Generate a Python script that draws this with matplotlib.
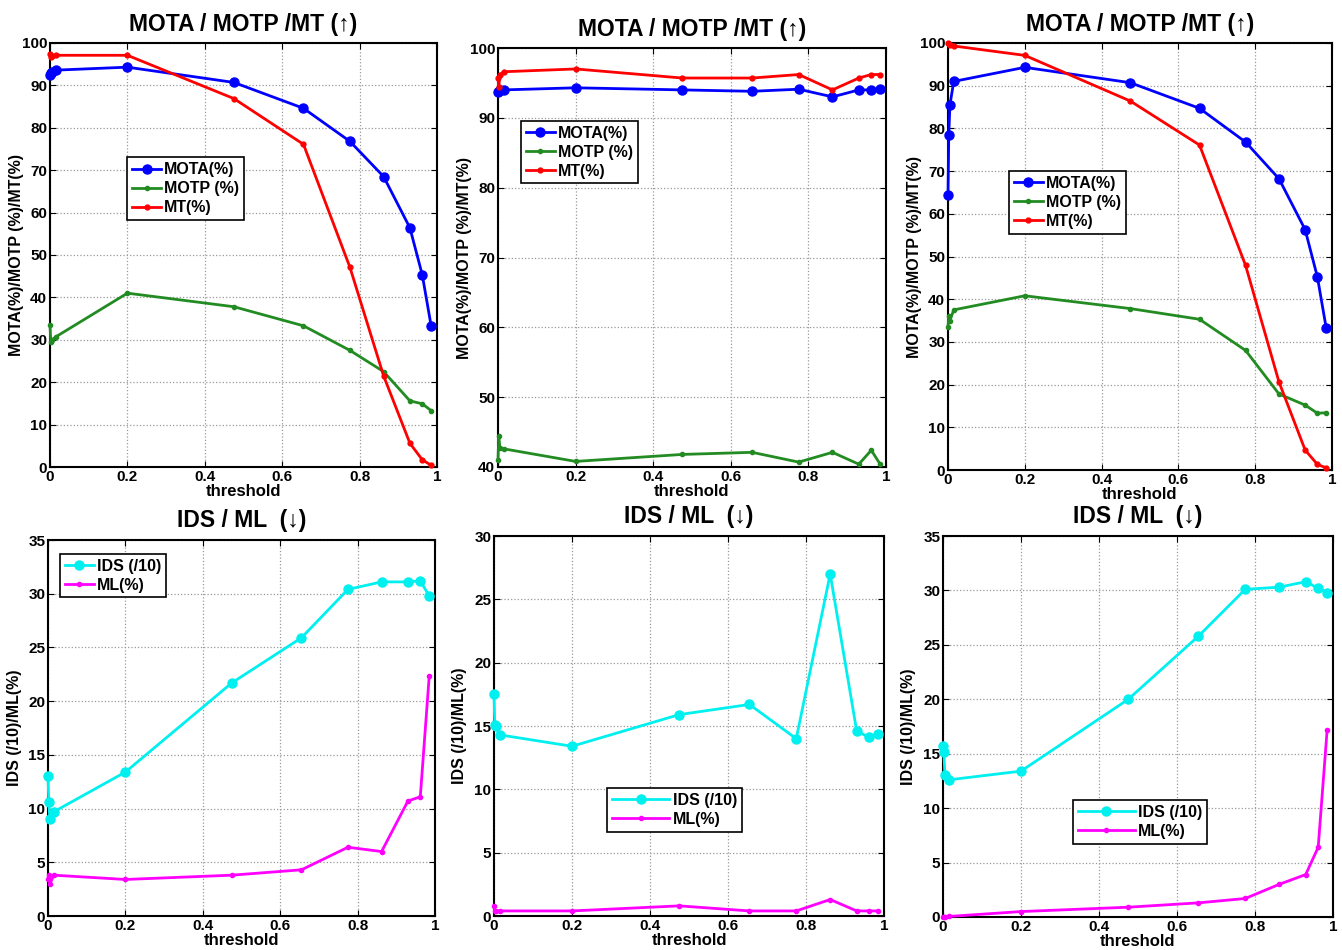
import numpy as np
import matplotlib
matplotlib.use('Agg')
import matplotlib.pyplot as plt
from matplotlib.ticker import FuncFormatter

# thresholds shared by all panels
threshold = [0.0, 0.002, 0.005, 0.015, 0.2, 0.475, 0.655, 0.775, 0.862, 0.93, 0.962, 0.985]

# top row: MOTA / MOTP / MT
mota_1 = [92.5, 93.0, 93.2, 93.6, 94.3, 90.7, 84.6, 76.8, 68.5, 56.4, 45.3, 33.2]
motp_1 = [33.5, 29.5, 30.0, 30.7, 41.0, 37.8, 33.3, 27.5, 22.5, 15.6, 14.9, 13.3]
mt_1 = [97.5, 96.8, 97.0, 97.1, 97.1, 86.9, 76.1, 47.1, 21.5, 5.6, 1.7, 0.4]

mota_2 = [93.7, 93.8, 94.0, 94.0, 94.3, 94.0, 93.8, 94.1, 93.0, 94.0, 94.0, 94.1]
motp_2 = [41.0, 44.4, 42.7, 42.6, 40.8, 41.8, 42.1, 40.7, 42.1, 40.4, 42.4, 40.4]
mt_2 = [95.7, 94.4, 96.2, 96.6, 97.0, 95.7, 95.7, 96.2, 94.0, 95.7, 96.2, 96.2]

mota_3 = [64.5, 78.5, 85.5, 91.0, 94.3, 90.7, 84.7, 76.8, 68.2, 56.3, 45.2, 33.2]
motp_3 = [33.5, 36.0, 35.0, 37.5, 40.8, 37.8, 35.3, 28.0, 17.8, 15.2, 13.3, 13.4]
mt_3 = [100.0, 99.8, 99.5, 99.3, 97.1, 86.4, 76.1, 47.9, 20.6, 4.7, 1.3, 0.5]

# bottom row: IDS / ML
ids_1 = [13.0, 10.6, 9.0, 9.7, 13.4, 21.7, 25.9, 30.4, 31.1, 31.1, 31.2, 29.8]
ml_1 = [3.4, 3.8, 3.0, 3.8, 3.4, 3.8, 4.3, 6.4, 6.0, 10.7, 11.1, 22.3]

ids_2 = [17.5, 15.1, 15.0, 14.3, 13.4, 15.9, 16.7, 14.0, 27.0, 14.6, 14.1, 14.4]
ml_2 = [0.8, 0.4, 0.4, 0.4, 0.4, 0.8, 0.4, 0.4, 1.3, 0.4, 0.4, 0.4]

ids_3 = [15.7, 15.2, 13.0, 12.6, 13.4, 20.0, 25.8, 30.1, 30.3, 30.8, 30.2, 29.8]
ml_3 = [0.0, 0.0, 0.0, 0.05, 0.5, 0.9, 1.3, 1.7, 3.0, 3.9, 6.4, 17.2]

plt.rcParams['font.family'] = ['Liberation Sans', 'DejaVu Sans']
plt.rcParams['font.weight'] = 'bold'

W, H = 1342, 950
fig = plt.figure(figsize=(W / 100, H / 100), dpi=100)

def px_axes(l, t, r, b):
    return fig.add_axes([l / W, 1 - b / H, (r - l) / W, (b - t) / H])

def fmt(v, pos):
    return ('%g' % v)

def style(ax, ylim, ystep, ylabel, title):
    ax.set_xlim(0, 1)
    ax.set_ylim(*ylim)
    ax.set_xticks(np.arange(0, 1.01, 0.2))
    ax.set_yticks(np.arange(ylim[0], ylim[1] + 0.1, ystep))
    ax.xaxis.set_major_formatter(FuncFormatter(fmt))
    ax.yaxis.set_major_formatter(FuncFormatter(fmt))
    ax.grid(True, linestyle=':', color='#999999', linewidth=0.9)
    ax.tick_params(direction='in', top=True, right=True, length=4, pad=2,
                   labelsize=11)
    for s in ax.spines.values():
        s.set_linewidth(1.5)
    ax.set_xlabel('threshold', fontsize=12, fontweight='bold', labelpad=0)
    ax.set_ylabel(ylabel, fontsize=11.5, fontweight='bold')
    ax.yaxis.set_label_coords(-0.068, 0.5)
    ax.set_title(title, fontsize=16.5, fontweight='bold', pad=9)

def top_panel(ax, mota, motp, mt, ylim, leg_xy):
    ax.plot(threshold, mota, color='#0000ff', lw=2, marker='o', ms=6.5,
            label='MOTA(%)', clip_on=False, zorder=3)
    ax.plot(threshold, motp, color='#228b22', lw=2, marker='.', ms=6,
            label='MOTP (%)', clip_on=False, zorder=3)
    ax.plot(threshold, mt, color='#ff0000', lw=2, marker='.', ms=7,
            label='MT(%)', clip_on=False, zorder=3)
    style(ax, ylim, 10, 'MOTA(%)/MOTP (%)/MT(%)', 'MOTA / MOTP /MT (\u2191)')
    leg = ax.legend(loc='upper left', bbox_to_anchor=leg_xy, fancybox=False,
                    edgecolor='black', framealpha=1, handlelength=1.8,
                    handletextpad=0.2, borderpad=0.3, labelspacing=0.25,
                    borderaxespad=0, prop={'weight': 'bold', 'size': 11.5})
    leg.get_frame().set_linewidth(1.2)

def bottom_panel(ax, ids, ml, ylim, leg_xy, hl):
    ax.plot(threshold, ids, color='#00f0f0', lw=2, marker='o', ms=6.5,
            label='IDS (/10)', clip_on=False, zorder=3)
    ax.plot(threshold, ml, color='#ff00ff', lw=2, marker='.', ms=6,
            label='ML(%)', clip_on=False, zorder=3)
    style(ax, ylim, 5, 'IDS (/10)/ML(%)', 'IDS / ML  (\u2193)')
    leg = ax.legend(loc='upper left', bbox_to_anchor=leg_xy, fancybox=False,
                    edgecolor='black', framealpha=1, handlelength=hl,
                    handletextpad=0.2, borderpad=0.3, labelspacing=0.25,
                    borderaxespad=0, prop={'weight': 'bold', 'size': 11.5})
    leg.get_frame().set_linewidth(1.2)

ax1 = px_axes(50, 43, 437, 467)
top_panel(ax1, mota_1, motp_1, mt_1, (0, 100), (0.2, 0.73))
ax2 = px_axes(498, 48, 886, 467)
top_panel(ax2, mota_2, motp_2, mt_2, (40, 100), (0.06, 0.826))
ax3 = px_axes(948, 43, 1332, 470)
top_panel(ax3, mota_3, motp_3, mt_3, (0, 100), (0.159, 0.70))

ax4 = px_axes(48, 540, 435, 916)
bottom_panel(ax4, ids_1, ml_1, (0, 35), (0.031, 0.963), 1.8)
ax5 = px_axes(494, 536, 884, 916)
bottom_panel(ax5, ids_2, ml_2, (0, 30), (0.29, 0.337), 3.6)
ax6 = px_axes(943, 536, 1333, 917)
bottom_panel(ax6, ids_3, ml_3, (0, 35), (0.333, 0.307), 3.6)

fig.savefig('out.png', dpi=100)
